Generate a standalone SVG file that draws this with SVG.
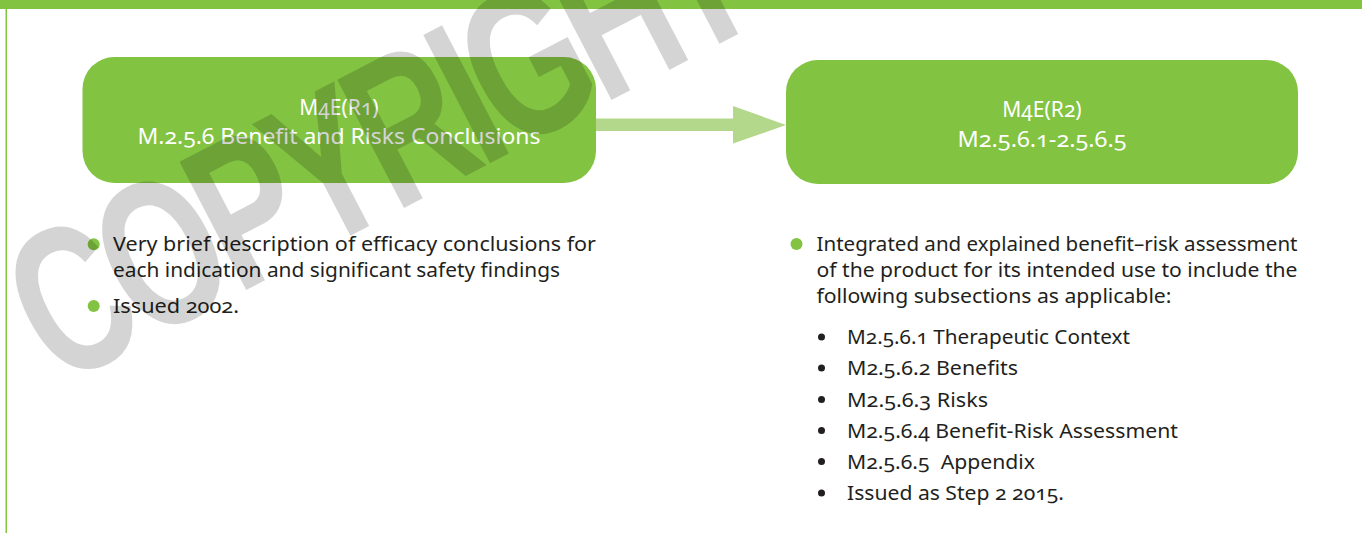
<svg xmlns="http://www.w3.org/2000/svg" width="1362" height="533" viewBox="0 0 1362 533">
<style>
.box{fill:#82c341}
.ttl{font-family:"Noto Sans","Open Sans",sans-serif;font-size:21px;fill:#ffffff;text-anchor:middle;font-variant-numeric:oldstyle-nums}
.body{font-family:"Noto Sans","Open Sans",sans-serif;font-size:19px;fill:#231f20;font-variant-numeric:oldstyle-nums}
.gdot{fill:#82c341}
.bdot{fill:#231f20}
.wm{font-family:"Liberation Sans",Arial,sans-serif;font-weight:bold;font-size:210px;letter-spacing:-13px;fill:#000;fill-opacity:0.17}
</style>
<rect x="0" y="0" width="1362" height="533" fill="#ffffff"/>
<rect x="0" y="0" width="1362" height="9" fill="#82c341"/>
<rect x="5.5" y="9" width="1.5" height="524" fill="#82c341"/>

<g id="connectors">
<polygon points="596,118.5 733,118.5 733,106 786,125 733,143.5 733,131 596,131" fill="#b3d88b"/>
</g>

<g id="node-m4e-r1">
<rect class="box" x="82.5" y="57" width="513.5" height="126" rx="32" ry="32"/>
<text class="ttl" x="339" y="115">M4E(R1)</text>
<text class="ttl" x="339" y="144" textLength="403" lengthAdjust="spacingAndGlyphs">M.2.5.6 Benefit and Risks Conclusions</text>
</g>

<g id="node-m4e-r2">
<rect class="box" x="786" y="60" width="512" height="124" rx="32" ry="32"/>
<text class="ttl" x="1042" y="117">M4E(R2)</text>
<text class="ttl" x="1042" y="147" textLength="169" lengthAdjust="spacingAndGlyphs">M2.5.6.1-2.5.6.5</text>
</g>

<g id="notes-r1">
<circle class="gdot" cx="93.7" cy="244.3" r="6"/>
<text class="body" x="113" y="251" textLength="483" lengthAdjust="spacingAndGlyphs">Very brief description of efficacy conclusions for</text>
<text class="body" x="113" y="277" textLength="447" lengthAdjust="spacingAndGlyphs">each indication and significant safety findings</text>
<circle class="gdot" cx="93.7" cy="306" r="6"/>
<text class="body" x="113" y="313" textLength="126" lengthAdjust="spacingAndGlyphs">Issued 2002.</text>
</g>

<g id="notes-r2">
<circle class="gdot" cx="796.5" cy="244" r="6"/>
<text class="body" x="816.5" y="251" textLength="481" lengthAdjust="spacingAndGlyphs">Integrated and explained benefit–risk assessment</text>
<text class="body" x="816.5" y="277" textLength="481" lengthAdjust="spacingAndGlyphs">of the product for its intended use to include the</text>
<text class="body" x="816.5" y="303" textLength="355" lengthAdjust="spacingAndGlyphs">following subsections as applicable:</text>
<circle class="bdot" cx="821.5" cy="337" r="3.5"/>
<text class="body" x="847" y="344" textLength="283" lengthAdjust="spacingAndGlyphs">M2.5.6.1 Therapeutic Context</text>
<circle class="bdot" cx="821.5" cy="368" r="3.5"/>
<text class="body" x="847" y="375" textLength="171" lengthAdjust="spacingAndGlyphs">M2.5.6.2 Benefits</text>
<circle class="bdot" cx="821.5" cy="399.5" r="3.5"/>
<text class="body" x="847" y="407" textLength="141" lengthAdjust="spacingAndGlyphs">M2.5.6.3 Risks</text>
<circle class="bdot" cx="821.5" cy="430.5" r="3.5"/>
<text class="body" x="847" y="438" textLength="331" lengthAdjust="spacingAndGlyphs">M2.5.6.4 Benefit-Risk Assessment</text>
<circle class="bdot" cx="821.5" cy="461.5" r="3.5"/>
<text class="body" x="847" y="469" textLength="188" lengthAdjust="spacingAndGlyphs" xml:space="preserve">M2.5.6.5  Appendix</text>
<circle class="bdot" cx="821.5" cy="493" r="3.5"/>
<text class="body" x="847" y="500" textLength="217" lengthAdjust="spacingAndGlyphs">Issued as Step 2 2015.</text>
</g>

<g id="watermark">
<text class="wm" transform="translate(58,388) rotate(-27.5) scale(0.7,1)" x="0" y="0">COPYRIGHT</text>
</g>
</svg>
